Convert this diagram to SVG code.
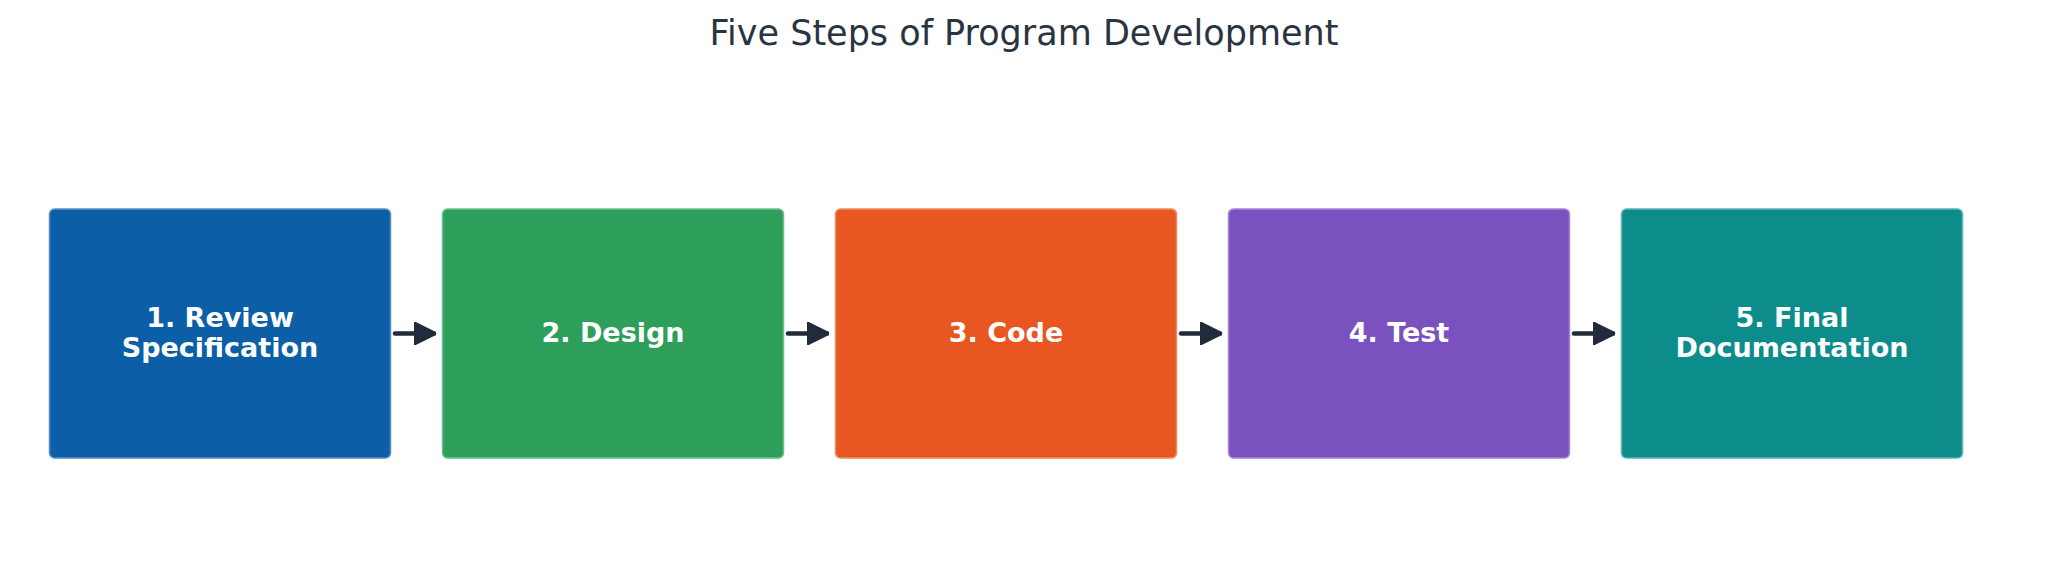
<svg xmlns="http://www.w3.org/2000/svg" width="2048" height="581" viewBox="0 0 2048 581">
  <defs>
    <marker id="arrow" viewBox="0 0 10 10" refX="9" refY="5" markerWidth="5" markerHeight="5" orient="auto" markerUnits="strokeWidth">
      <path d="M0,0 L10,5 L0,10 z" fill="#222b3b" stroke="#222b3b" stroke-width="1" stroke-linejoin="round"/>
    </marker>
  </defs>
  <style>
    .title { font-family: "DejaVu Sans", sans-serif; font-size: 35px; fill: #2a3342; }
    .box { stroke-width: 1.5; }
    .label { font-family: "DejaVu Sans", sans-serif; font-weight: bold; font-size: 27px; fill: #ffffff; text-anchor: middle; }
    .conn { stroke: #222b3b; stroke-width: 4.5; fill: none; stroke-linecap: round; }
  </style>
  <rect width="2048" height="581" fill="#ffffff"/>
  <text class="title" x="1024" y="45" text-anchor="middle">Five Steps of Program Development</text>

  <g id="step1">
    <rect class="box" x="49.5" y="209" width="341" height="249" rx="5" fill="#0c5fa7" stroke="#5a8fc4"/>
    <text class="label" x="220" y="327">1. Review</text>
    <text class="label" x="220" y="357">Specification</text>
  </g>
  <g id="step2">
    <rect class="box" x="442.5" y="209" width="341" height="249" rx="5" fill="#2e9f5b" stroke="#6bbf8e"/>
    <text class="label" x="613" y="342">2. Design</text>
  </g>
  <g id="step3">
    <rect class="box" x="835.5" y="209" width="341" height="249" rx="5" fill="#e85722" stroke="#f08a63"/>
    <text class="label" x="1006" y="342">3. Code</text>
  </g>
  <g id="step4">
    <rect class="box" x="1228.5" y="209" width="341" height="249" rx="5" fill="#7b51c0" stroke="#a486d5"/>
    <text class="label" x="1399" y="342">4. Test</text>
  </g>
  <g id="step5">
    <rect class="box" x="1621.5" y="209" width="341" height="249" rx="5" fill="#0c8d8c" stroke="#5db3b2"/>
    <text class="label" x="1792" y="327">5. Final</text>
    <text class="label" x="1792" y="357">Documentation</text>
  </g>

  <g id="connectors">
    <line class="conn" x1="395" y1="333.5" x2="434" y2="333.5" marker-end="url(#arrow)"/>
    <line class="conn" x1="788" y1="333.5" x2="827" y2="333.5" marker-end="url(#arrow)"/>
    <line class="conn" x1="1181" y1="333.5" x2="1220" y2="333.5" marker-end="url(#arrow)"/>
    <line class="conn" x1="1574" y1="333.5" x2="1613" y2="333.5" marker-end="url(#arrow)"/>
  </g>
</svg>
